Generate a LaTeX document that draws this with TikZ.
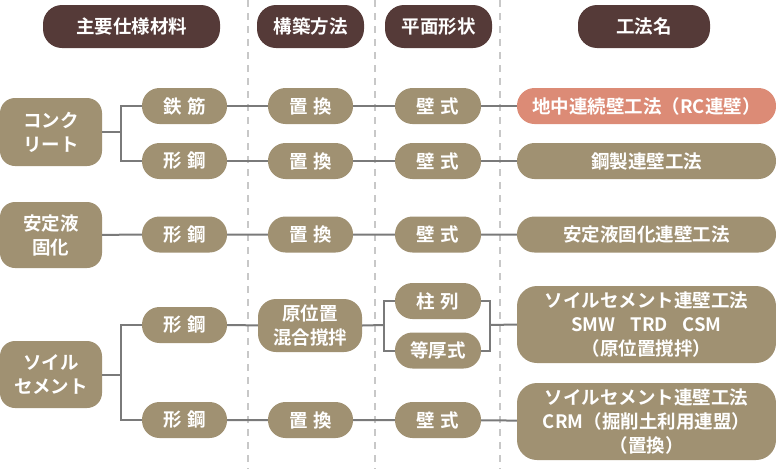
\documentclass[tikz,border=0pt]{standalone}
\usepackage{fontspec}
\setmainfont{Noto Sans CJK JP}[BoldFont={Noto Sans CJK JP Bold}]
\usetikzlibrary{positioning}
\definecolor{hdrBrown}{RGB}{85,58,56}
\definecolor{pillTan}{RGB}{160,145,114}
\definecolor{pillSalmon}{RGB}{220,139,118}
\definecolor{lineGray}{RGB}{122,122,122}
\definecolor{dashGray}{RGB}{200,200,200}
\newcommand{\wsp}{\hspace{0.3em}}
\tikzset{
  txt/.style={text=white,inner sep=0pt,align=center,font=\bfseries\fontsize{18.5}{24}\selectfont},
  hdr/.style={txt,fill=hdrBrown,rounded corners=19pt,minimum height=43pt},
  pill/.style={txt,fill=pillTan,rounded corners=17.5pt,minimum height=36pt},
  matbox/.style={txt,fill=pillTan,rounded corners=15pt,minimum width=102pt},
  resbox/.style={pill,minimum width=259pt},
  conn/.style={draw=lineGray,line width=2pt},
  colsep/.style={draw=dashGray,line width=1.6pt,dash pattern=on 7pt off 6pt}
}
\begin{document}
\begin{tikzpicture}[x=1pt,y=-1pt]
\useasboundingbox (0,0) rectangle (776,469);

% column separators
\draw[colsep] (248,0) -- (248,469);
\draw[colsep] (375,0) -- (375,469);
\draw[colsep] (500,0) -- (500,469);

% headers
\node[hdr,minimum width=177pt] (hMat) at (131.5,26.5) {主要仕様材料};
\node[hdr,minimum width=107pt] (hBuild) at (310.5,26.5) {構築方法};
\node[hdr,minimum width=107pt] (hShape) at (438.5,26.5) {平面形状};
\node[hdr,minimum width=132pt] (hName) at (644,26.5) {工法名};

% main materials
\node[matbox,minimum height=68pt] (concrete) at (51,132) {コンク\\リート};
\node[matbox,minimum height=66pt] (slurry) at (51,235) {安定液\\固化};
\node[matbox,minimum height=67pt] (soil) at (51,374.5) {ソイル\\セメント};

% sub materials
\node[pill,minimum width=85pt] (rebar) at (184.5,106) {鉄\wsp 筋};
\node[pill,minimum width=85pt] (steelA) at (184.5,161) {形\wsp 鋼};
\node[pill,minimum width=85pt] (steelB) at (184.5,234.5) {形\wsp 鋼};
\node[pill,minimum width=85pt] (steelC) at (184.5,325) {形\wsp 鋼};
\node[pill,minimum width=85pt] (steelD) at (184.5,420) {形\wsp 鋼};

% construction method
\node[pill,minimum width=85pt] (replA) at (310.5,106) {置\wsp 換};
\node[pill,minimum width=85pt] (replB) at (310.5,161) {置\wsp 換};
\node[pill,minimum width=85pt] (replC) at (310.5,234.5) {置\wsp 換};
\node[txt,fill=pillTan,rounded corners=18pt,minimum width=104pt,minimum height=53pt] (mix) at (310,325.5) {原位置\\混合撹拌};
\node[pill,minimum width=85pt] (replD) at (310.5,420) {置\wsp 換};

% plan shape
\node[pill,minimum width=86pt] (wallA) at (438,106) {壁\wsp 式};
\node[pill,minimum width=86pt] (wallB) at (438,161) {壁\wsp 式};
\node[pill,minimum width=86pt] (wallC) at (438,234.5) {壁\wsp 式};
\node[pill,minimum width=86pt] (column) at (438,301) {柱\wsp 列};
\node[pill,minimum width=86pt] (equal) at (438,350.5) {等厚式};
\node[pill,minimum width=86pt] (wallD) at (438,420) {壁\wsp 式};

% method names
\node[resbox,fill=pillSalmon] (resRC) at (646.5,106) {地中連続壁工法（RC連壁）};
\node[resbox] (resSteel) at (646.5,161) {鋼製連壁工法};
\node[resbox] (resSlurry) at (646.5,234.5) {安定液固化連壁工法};
\node[txt,fill=pillTan,rounded corners=20pt,minimum width=259pt,minimum height=77pt] (resMix) at (646.5,324.5)
  {ソイルセメント連壁工法\\SMW\hspace{0.8em}TRD\hspace{0.8em}CSM\\（原位置撹拌）};
\node[txt,fill=pillTan,rounded corners=20pt,minimum width=259pt,minimum height=77pt] (resCRM) at (646.5,421.5)
  {ソイルセメント連壁工法\\CRM（掘削土利用連盟）\\（置換）};

% branch points
\coordinate (brA) at (121,132);
\coordinate (brC) at (121,374.5);
\coordinate (bkL) at (384,325);
\coordinate (bkR) at (490,325);

% connectors
\draw[conn] (concrete.east) -- (brA);
\draw[conn] (brA) |- (rebar.west);
\draw[conn] (brA) |- (steelA.west);
\draw[conn] (rebar) -- (replA) -- (wallA) -- (resRC);
\draw[conn] (steelA) -- (replB) -- (wallB) -- (resSteel);
\draw[conn] (slurry) -- (steelB) -- (replC) -- (wallC) -- (resSlurry);
\draw[conn] (soil.east) -- (brC);
\draw[conn] (brC) |- (steelC.west);
\draw[conn] (brC) |- (steelD.west);
\draw[conn] (steelC) -- (mix);
\draw[conn] (mix.east) -- (bkL);
\draw[conn] (column.west) -| (bkL);
\draw[conn] (equal.west) -| (bkL);
\draw[conn] (column.east) -| (bkR);
\draw[conn] (equal.east) -| (bkR);
\draw[conn] (bkR) -- (resMix.west);
\draw[conn] (steelD) -- (replD) -- (wallD) -- (resCRM);
\end{tikzpicture}
\end{document}
